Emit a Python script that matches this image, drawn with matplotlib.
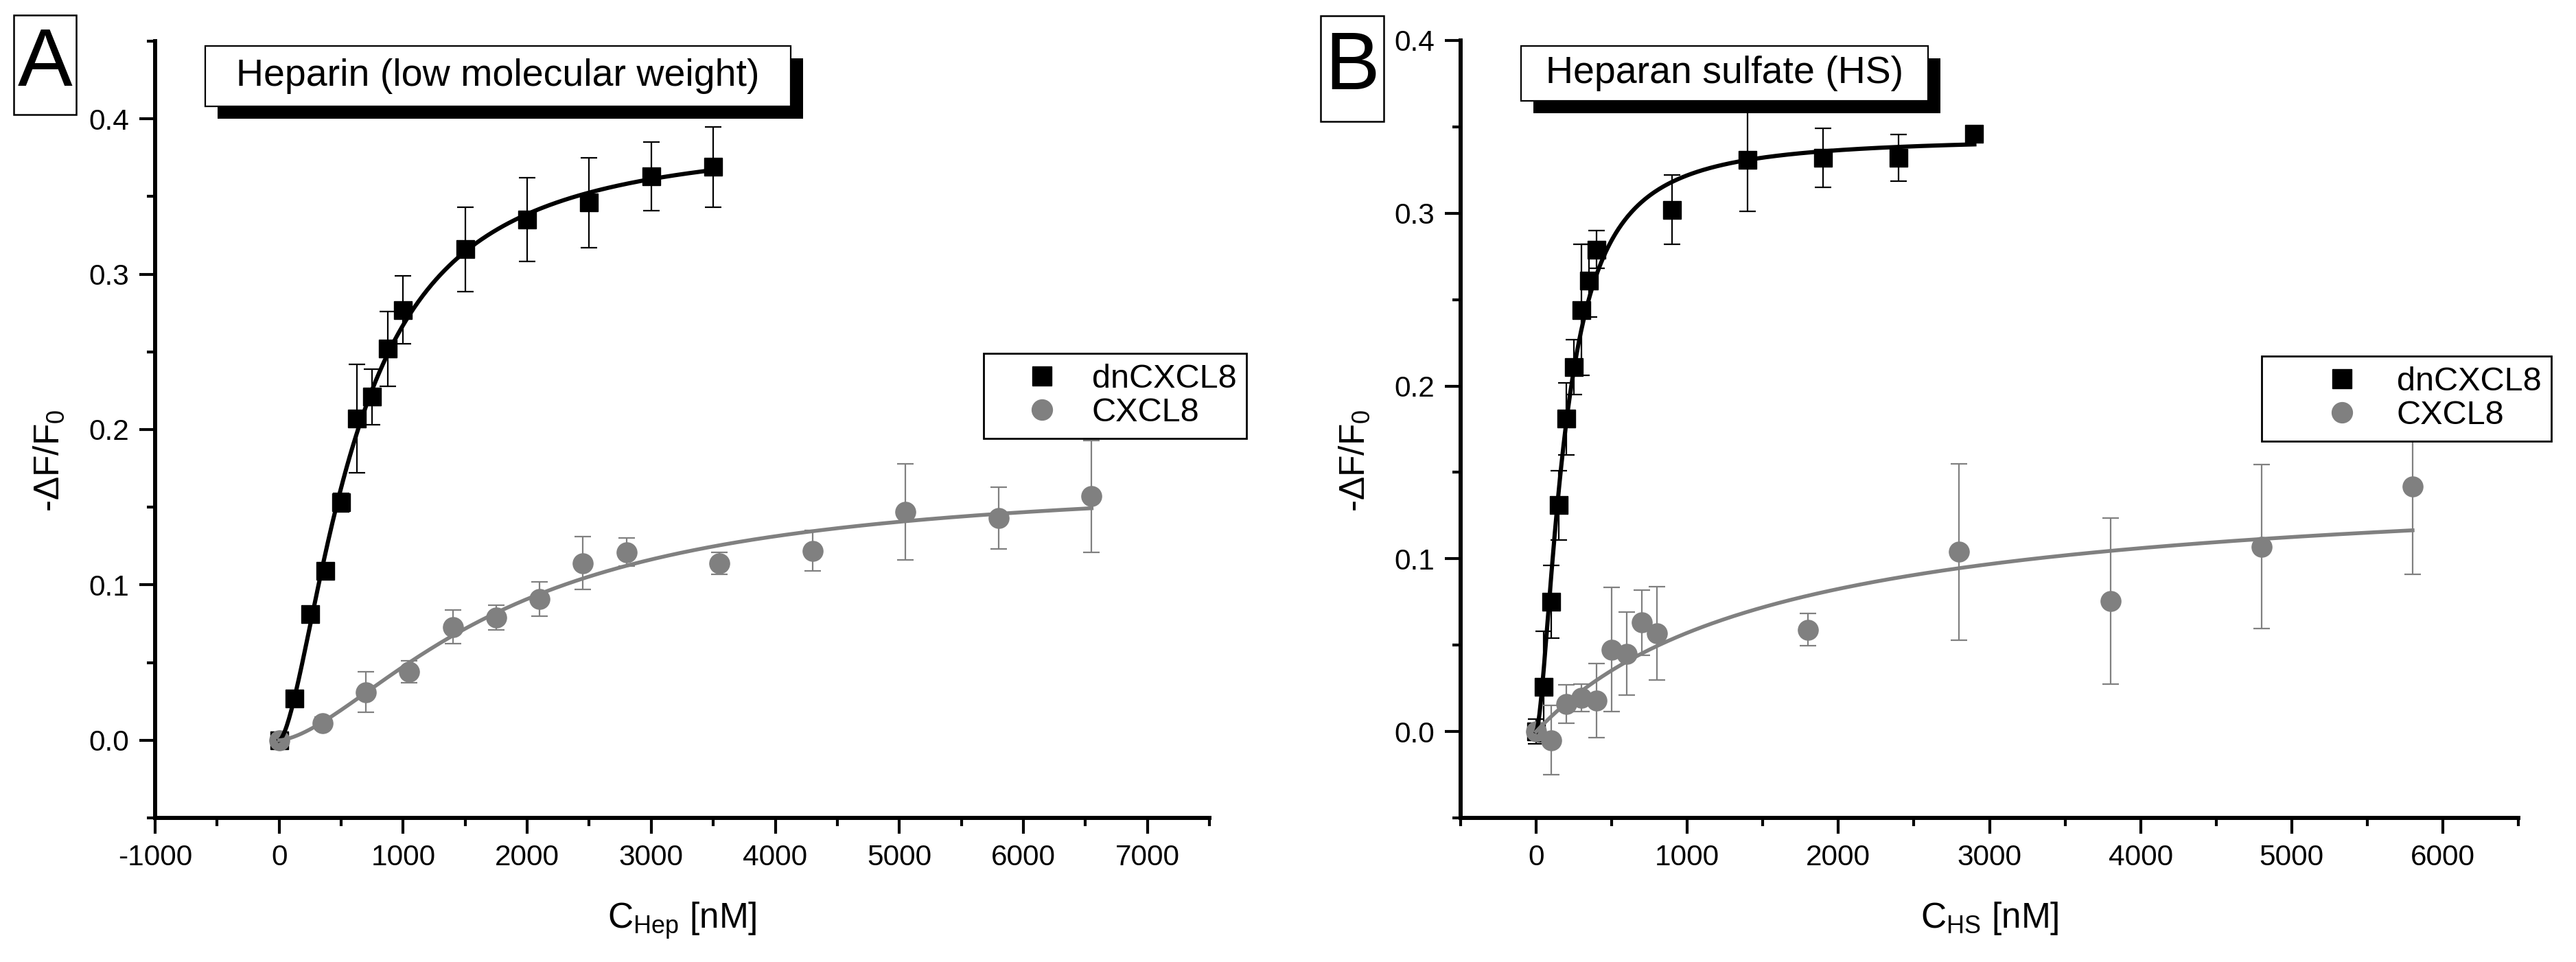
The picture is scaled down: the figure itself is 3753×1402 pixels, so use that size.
import numpy as np
import matplotlib
matplotlib.use('Agg')
import matplotlib.pyplot as plt
from matplotlib.patches import Rectangle
from matplotlib.lines import Line2D
from matplotlib.ticker import MultipleLocator, FormatStrFormatter

# panel A: heparin (low molecular weight)
hep_dn_x = [0, 125, 250, 375, 500, 625, 750, 875, 1000, 1500, 2000, 2500, 3000, 3500]
hep_dn_y = [0.0, 0.027, 0.081, 0.109, 0.153, 0.207, 0.221, 0.252, 0.277, 0.316, 0.335, 0.346, 0.363, 0.369]
hep_dn_err = [0, 0, 0, 0, 0.006, 0.035, 0.018, 0.024, 0.022, 0.027, 0.027, 0.029, 0.022, 0.026]

hep_wt_x = [0, 350, 700, 1050, 1400, 1750, 2100, 2450, 2800, 3550, 4300, 5050, 5800, 6550]
hep_wt_y = [0.0, 0.011, 0.031, 0.044, 0.073, 0.079, 0.091, 0.114, 0.121, 0.114, 0.122, 0.147, 0.143, 0.157]
hep_wt_err = [0, 0.004, 0.013, 0.007, 0.011, 0.008, 0.011, 0.017, 0.009, 0.007, 0.013, 0.031, 0.020, 0.036]

# panel B: heparan sulfate
hs_dn_x = [0, 50, 100, 150, 200, 250, 300, 350, 400, 900, 1400, 1900, 2400, 2900]
hs_dn_y = [0.0, 0.026, 0.075, 0.131, 0.181, 0.211, 0.244, 0.261, 0.279, 0.302, 0.331, 0.332, 0.332, 0.346]
hs_dn_err = [0.007, 0.032, 0.021, 0.02, 0.021, 0.016, 0.038, 0.021, 0.011, 0.020, 0.030, 0.017, 0.0135, 0.003]

hs_wt_x = [0, 100, 200, 300, 400, 500, 600, 700, 800, 1800, 2800, 3800, 4800, 5800]
hs_wt_y = [0.0, -0.005, 0.016, 0.0195, 0.018, 0.0475, 0.045, 0.063, 0.057, 0.059, 0.104, 0.0755, 0.107, 0.142]
hs_wt_err = [0, 0.02, 0.011, 0.008, 0.0215, 0.036, 0.024, 0.019, 0.027, 0.0095, 0.051, 0.048, 0.0475, 0.051]

series_names = ['dnCXCL8', 'CXCL8']
panel_titles = ['Heparin (low molecular weight)', 'Heparan sulfate (HS)']
panel_letters = ['A', 'B']
x_labels = ['C$_{Hep}$ [nM]', 'C$_{HS}$ [nM]']

GRAY = '#808080'
FONT = 'Liberation Sans'

plt.rcParams['font.family'] = [FONT, 'DejaVu Sans']
plt.rcParams['mathtext.fontset'] = 'custom'
plt.rcParams['mathtext.rm'] = FONT
plt.rcParams['mathtext.default'] = 'regular'
plt.rcParams['axes.unicode_minus'] = False


def hill_fit(x, y):
    # least squares Hill fit: grid over K and n, Bmax solved linearly
    x = np.asarray(x, float)[None, None, :]
    y = np.asarray(y, float)[None, None, :]
    n = np.arange(1.0, 1.61, 0.01)[:, None, None]
    k = np.geomspace(20, 20000, 600)[None, :, None]
    f = x ** n / (k ** n + x ** n)
    b = (f * y).sum(-1, keepdims=True) / (f * f).sum(-1, keepdims=True)
    sse = ((y - b * f) ** 2).sum(-1)
    i, j = np.unravel_index(np.argmin(sse), sse.shape)
    return b[i, j, 0], k[0, j, 0], n[i, 0, 0]


def fit_curve(x, y):
    bmax, kd, hn = hill_fit(x, y)
    xs = np.linspace(0, max(x), 400)
    return xs, bmax * xs ** hn / (kd ** hn + xs ** hn)


fig = plt.figure(figsize=(37.53, 14.02), dpi=100)
W, H = 3753.0, 1402.0

axA = fig.add_axes([226 / W, 1 - 1192 / H, 1536 / W, 1132 / H])
axB = fig.add_axes([2128 / W, 1 - 1192 / H, 1541 / W, 1133 / H])

panels = [
    (axA, hep_dn_x, hep_dn_y, hep_dn_err, hep_wt_x, hep_wt_y, hep_wt_err),
    (axB, hs_dn_x, hs_dn_y, hs_dn_err, hs_wt_x, hs_wt_y, hs_wt_err),
]

for idx, (ax, dx, dy, de, wx, wy, we) in enumerate(panels):
    ax.errorbar(dx, dy, yerr=de, fmt='none', ecolor='k', elinewidth=1.6,
                capsize=8.5, capthick=1.6, zorder=2)
    ax.plot(dx, dy, ls='none', marker='s', ms=19, color='k', zorder=3)
    xs, ys = fit_curve(dx, dy)
    ax.plot(xs, ys, color='k', lw=4.4, zorder=4)

    ax.errorbar(wx, wy, yerr=we, fmt='none', ecolor=GRAY, elinewidth=1.6,
                capsize=8.5, capthick=1.6, zorder=2)
    ax.plot(wx, wy, ls='none', marker='o', ms=21, color=GRAY, zorder=3)
    xs, ys = fit_curve(wx, wy)
    ax.plot(xs, ys, color=GRAY, lw=4.0, zorder=4)

    for side in ['top', 'right']:
        ax.spines[side].set_visible(False)
    for side in ['left', 'bottom']:
        ax.spines[side].set_linewidth(4.3)

    ax.tick_params(which='major', direction='out', length=16.5, width=3, pad=11,
                   labelsize=30.5)
    ax.tick_params(which='minor', direction='out', length=8.5, width=3)
    ax.yaxis.set_major_locator(MultipleLocator(0.1))
    ax.yaxis.set_minor_locator(MultipleLocator(0.05))
    ax.yaxis.set_major_formatter(FormatStrFormatter('%.1f'))
    ax.xaxis.set_major_locator(MultipleLocator(1000))
    ax.xaxis.set_minor_locator(MultipleLocator(500))

    ax.set_xlabel(x_labels[idx], fontsize=37, labelpad=30)
    ax.set_ylabel('-ΔF/F$_0$', fontsize=37)
    ax.yaxis.set_label_coords(-0.084, 0.46)

axA.set_xlim(-1000, 7500)
axA.set_ylim(-0.05, 0.45)
axB.set_xlim(-500, 6500)
axB.set_ylim(-0.05, 0.4)

# legends
legend_spec = [(axA, 1433, 515, 2.9, 0.05), (axB, 3295, 519, 4.2, -0.45)]
for ax, lx, ly, hl, htp in legend_spec:
    handles = [Line2D([], [], ls='none', marker='s', ms=19.5, color='k'),
               Line2D([], [], ls='none', marker='o', ms=21.5, color=GRAY)]
    leg = ax.legend(handles, series_names, loc='upper left',
                    bbox_to_anchor=(lx / W, 1 - ly / H), bbox_transform=fig.transFigure,
                    borderaxespad=0, fancybox=False, framealpha=1, edgecolor='k',
                    fontsize=35, borderpad=0.3, labelspacing=0.1,
                    handlelength=hl, handletextpad=htp, numpoints=1)
    leg.get_frame().set_linewidth(2)
    leg.set_zorder(10)

# title boxes with drop shadow
title_boxes = [(299, 67, 1152, 155), (2216, 67, 2809, 147)]
for (x0, y0, x1, y1), title in zip(title_boxes, panel_titles):
    fig.patches.append(Rectangle(((x0 + 18) / W, 1 - (y1 + 18) / H), (x1 - x0) / W,
                                 (y1 - y0) / H, transform=fig.transFigure,
                                 facecolor='k', edgecolor='k', lw=0, zorder=5))
    fig.patches.append(Rectangle((x0 / W, 1 - y1 / H), (x1 - x0) / W, (y1 - y0) / H,
                                 transform=fig.transFigure, facecolor='white',
                                 edgecolor='k', lw=1.6, zorder=6))
    fig.text((x0 + x1) / 2 / W, 1 - (y0 + y1) / 2 / H, title, fontsize=40,
             ha='center', va='center', zorder=7)

# panel letters in boxes
letter_boxes = [(20, 22, 111, 167), (1924, 23, 2016, 177)]
for (x0, y0, x1, y1), letter in zip(letter_boxes, panel_letters):
    fig.patches.append(Rectangle((x0 / W, 1 - y1 / H), (x1 - x0) / W, (y1 - y0) / H,
                                 transform=fig.transFigure, facecolor='white',
                                 edgecolor='k', lw=1.8, zorder=6))
    fig.text((x0 + x1) / 2 / W, 1 - (y0 + y1) / 2 / H, letter, fontsize=86,
             ha='center', va='center', zorder=7)

fig.savefig('out.png', dpi=100)
